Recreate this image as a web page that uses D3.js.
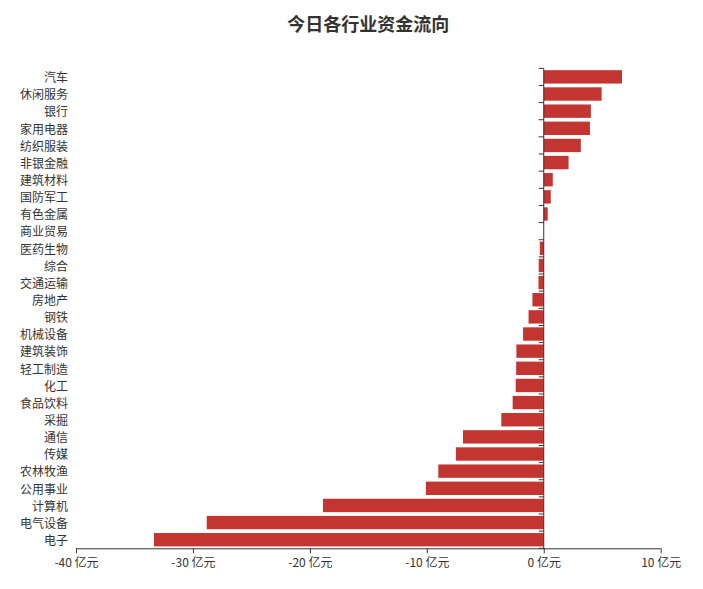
<!DOCTYPE html>
<html>
<head>
<meta charset="utf-8">
<script src="https://cdn.jsdelivr.net/npm/d3@7"></script>
<style>
  html, body { margin: 0; padding: 0; background: #fff; }
  svg { display: block; font-family: "Noto Sans CJK SC", "Noto Sans", sans-serif; }
</style>
</head>
<body>
<svg id="chart" width="703" height="589"></svg>
<script>
const title = "今日各行业资金流向";
const categories = ["汽车","休闲服务","银行","家用电器","纺织服装","非银金融","建筑材料","国防军工","有色金属","商业贸易","医药生物","综合","交通运输","房地产","钢铁","机械设备","建筑装饰","轻工制造","化工","食品饮料","采掘","通信","传媒","农林牧渔","公用事业","计算机","电气设备","电子"];
const values = [6.69,4.95,4.03,3.95,3.17,2.12,0.77,0.6,0.34,0,-0.34,-0.43,-0.45,-0.97,-1.3,-1.77,-2.34,-2.36,-2.4,-2.66,-3.63,-6.91,-7.51,-9.02,-10.08,-18.88,-28.82,-33.33];
const xTicks = [-40,-30,-20,-10,0,10];
const unit = " 亿元";

const svg = d3.select("#chart");
const gLeft = 76, gRight = 660.7, gTop = 68.3, gBottom = 548.3;

const x = d3.scaleLinear().domain([-40, 10]).range([gLeft, gRight]);
const y = d3.scaleBand().domain(categories).range([gTop, gBottom]).paddingInner(0.22).paddingOuter(0.11);

// title
svg.append("text")
  .attr("x", (gLeft + gRight) / 2)
  .attr("y", 31)
  .attr("text-anchor", "middle")
  .attr("font-size", 18)
  .attr("font-weight", "bold")
  .attr("fill", "#333")
  .text(title);

// bars
const data = categories.map((c, i) => ({c, v: values[i]}));
svg.append("g").selectAll("rect").data(data).join("rect")
  .attr("x", d => x(Math.min(0, d.v)))
  .attr("width", d => Math.abs(x(d.v) - x(0)))
  .attr("y", d => y(d.c))
  .attr("height", y.bandwidth())
  .attr("fill", "#c23531");

// x axis
const xAxis = d3.axisBottom(x).tickValues(xTicks).tickSize(5).tickPadding(5)
  .tickFormat(d => d + unit);
const gx = svg.append("g").attr("transform", `translate(0,${gBottom})`).call(xAxis);
gx.select(".domain").attr("stroke", "#333").attr("d", `M${gLeft},0.5H${gRight}`);
gx.selectAll(".tick line").attr("stroke", "#333");
gx.selectAll(".tick text").attr("fill", "#333").attr("font-size", 12)
  .attr("font-family", "'Noto Sans CJK SC', sans-serif");

// y axis line at zero with boundary ticks
const step = (gBottom - gTop) / categories.length;
const gy = svg.append("g");
gy.append("line")
  .attr("x1", x(0)).attr("x2", x(0))
  .attr("y1", gTop).attr("y2", gBottom)
  .attr("stroke", "#333");
gy.selectAll("line.tk").data(d3.range(categories.length + 1)).join("line")
  .attr("class", "tk")
  .attr("x1", x(0) - 5).attr("x2", x(0))
  .attr("y1", i => gTop + i * step).attr("y2", i => gTop + i * step)
  .attr("stroke", "#333");

// y labels at left of grid
svg.append("g").selectAll("text").data(categories).join("text")
  .attr("x", gLeft - 8)
  .attr("y", d => y(d) + y.bandwidth() / 2 + 1)
  .attr("dy", "0.35em")
  .attr("text-anchor", "end")
  .attr("font-size", 12)
  .attr("fill", "#333")
  .text(d => d);
</script>
</body>
</html>
